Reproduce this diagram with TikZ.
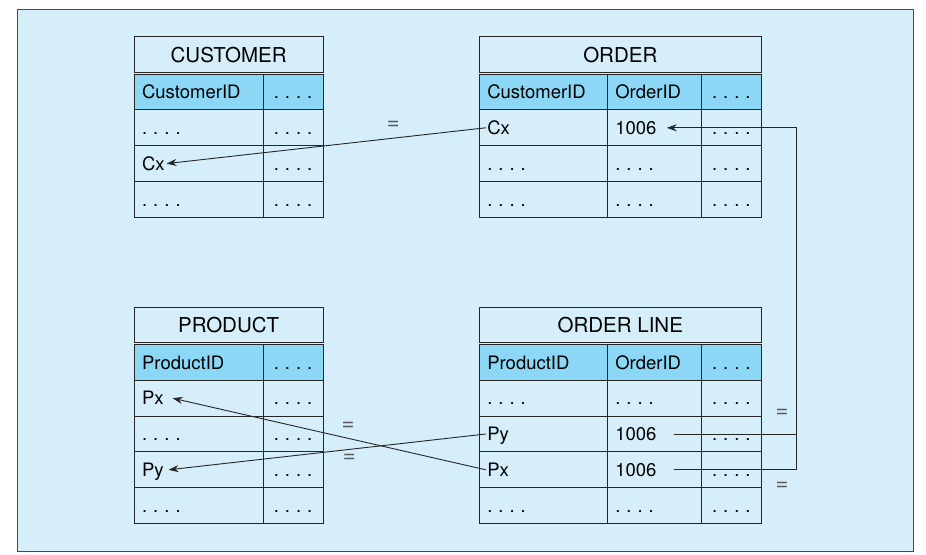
\documentclass[tikz,border=0pt]{standalone}
\usepackage{fontspec}
\setmainfont{TeX Gyre Heros}
\usepackage{xcolor}
\usetikzlibrary{positioning,matrix,calc,arrows.meta}
\definecolor{panelblue}{RGB}{213,238,250}
\definecolor{headblue}{RGB}{140,215,245}
\newcommand{\fdots}{.\hspace{6pt}.\hspace{6pt}.\hspace{6pt}.}

\begin{document}
\begin{tikzpicture}[x=1pt, y=-1pt, font=\fontsize{18.5}{22}\selectfont,
		table/.style={matrix of nodes, inner sep=0pt, line width=1.1pt,
		nodes={draw=black!85, minimum height=35.8pt, inner xsep=8pt, inner ysep=0pt,
			text height=13.5pt, text depth=0pt, align=left},
		column sep=-\pgflinewidth, row sep=-\pgflinewidth,
		row 1/.style={nodes={fill=headblue}}},
		twocol/.style={column 1/.style={nodes={text width=113pt}},
		column 2/.style={nodes={text width=44pt, align=center}}},
		threecol/.style={column 1/.style={nodes={text width=112pt}},
		column 2/.style={nodes={text width=78pt}},
		column 3/.style={nodes={text width=44pt, align=center}}},
		title/.style={draw=black!85, line width=1.1pt, minimum height=35.8pt,
			font=\fontsize{20.5}{22}\selectfont},
		conn/.style={line width=0.9pt, black!85},
		eqsign/.style={inner sep=1pt, text=black!65, font=\fontsize{22}{22}\selectfont},
		>={Stealth[length=10pt,width=7pt]}]

		\useasboundingbox (0,0) rectangle (926,554);
		\filldraw[fill=panelblue, draw=black!70, line width=1pt] (17,9) rectangle (913,551);

		\matrix[table, twocol, anchor=north west] (cust) at (133,73) {
		CustomerID & \fdots \\ \fdots & \fdots \\ Cx & \fdots \\ \fdots & \fdots \\};
		\node[title, minimum width=189pt, above=0pt of cust] (custtitle) {CUSTOMER};

		\matrix[table, threecol, right=154pt of cust] (order) {
		CustomerID & OrderID & \fdots \\ Cx & 1006 & \fdots \\
		\fdots & \fdots & \fdots \\ \fdots & \fdots & \fdots \\};
		\node[title, minimum width=282pt, above=0pt of order] (ordertitle) {ORDER};

		\matrix[table, twocol, below=125pt of cust] (prod) {
		ProductID & \fdots \\ Px & \fdots \\ \fdots & \fdots \\
		Py & \fdots \\ \fdots & \fdots \\};
		\node[title, minimum width=189pt, above=0pt of prod] (prodtitle) {PRODUCT};

		\matrix[table, threecol, right=154pt of prod] (oline) {
		ProductID & OrderID & \fdots \\ \fdots & \fdots & \fdots \\
		Py & 1006 & \fdots \\ Px & 1006 & \fdots \\ \fdots & \fdots & \fdots \\};
		\node[title, minimum width=282pt, above=0pt of oline] (olinetitle) {ORDER LINE};

		% foreign keys
		\draw[conn, ->] ($(order-2-1.west)+(7,0)$) -- node[eqsign, pos=0.29, above=7pt]{=} ($(cust-3-1.west)+(33,0)$);
		\draw[conn, ->] ($(oline-3-1.west)+(7,0)$) -- node[eqsign, pos=0.43, below=3pt]{=} ($(prod-4-1.west)+(35,0)$);
		\draw[conn, ->] ($(oline-4-1.west)+(7,0)$) -- node[eqsign, pos=0.44, above=6pt]{=} ($(prod-2-1.west)+(39,0)$);

		\coordinate (bend) at ($(order-2-3.east)+(35,0)$);
		\draw[conn, ->] (bend) -- ($(order-2-2.west)+(60,0)$);
		\draw[conn] ($(oline-3-2.west)+(67,0)$) -| node[eqsign, pos=0.44, above=15pt]{=} (bend);
		\draw[conn] ($(oline-4-2.west)+(67,0)$) -| node[eqsign, pos=0.44, below=11pt]{=} (bend);
	\end{tikzpicture}
\end{document}
